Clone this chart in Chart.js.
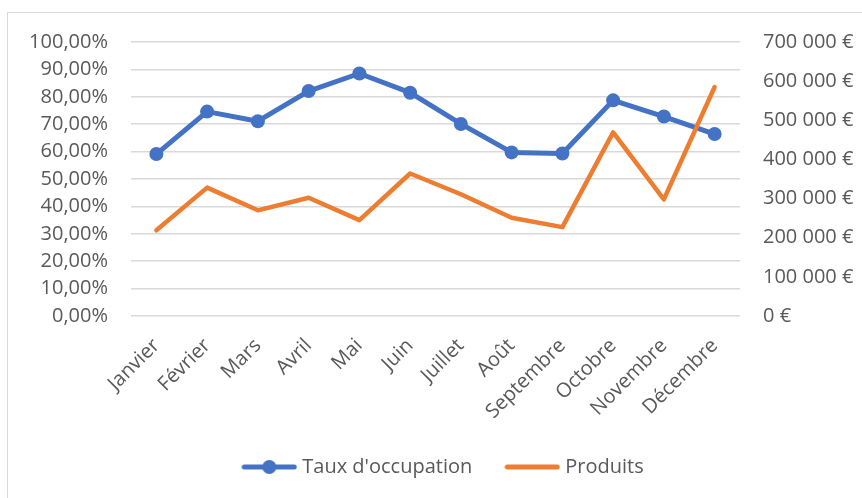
<!DOCTYPE html>
<html lang="fr">
<head>
<meta charset="utf-8">
<title>Taux d'occupation et produits</title>
<script src="https://cdn.jsdelivr.net/npm/chart.js@4.4.1/dist/chart.umd.min.js"></script>
<style>
  html, body { margin: 0; padding: 0; background: #ffffff; }
  #wrap { position: relative; width: 862px; height: 498px; overflow: hidden; }
  #frame {
    position: absolute; left: 7px; top: 12px; width: 900px; height: 520px;
    border: 1px solid #d9d9d9; box-sizing: border-box;
  }
  #myChart { position: absolute; left: 0; top: 0; }
</style>
</head>
<body>
<div id="wrap">
  <div id="frame"></div>
  <canvas id="myChart" width="862" height="498"></canvas>
</div>
<script>
// data
const mois = ['Janvier', 'Février', 'Mars', 'Avril', 'Mai', 'Juin', 'Juillet', 'Août', 'Septembre', 'Octobre', 'Novembre', 'Décembre'];
const tauxOccupation = [0.591, 0.746, 0.711, 0.821, 0.885, 0.815, 0.701, 0.597, 0.593, 0.787, 0.728, 0.664];
const produits = [219000, 328000, 270000, 302000, 245000, 364000, 311000, 251000, 227000, 469000, 298000, 585000];
const ticksTaux = [0, 0.1, 0.2, 0.3, 0.4, 0.5, 0.6, 0.7, 0.8, 0.9, 1];
const ticksProduits = [0, 100000, 200000, 300000, 400000, 500000, 600000, 700000];

const bleu = '#4472C4';
const orange = '#ED7D31';
const gris = '#595959';
const police = { family: "'Open Sans', sans-serif", size: 20 };

function formatPct(v) {
  return (v * 100).toFixed(2).replace('.', ',') + '%';
}
function formatEuro(v) {
  return String(Math.round(v)).replace(/\B(?=(\d{3})+(?!\d))/g, ' ') + ' €';
}

// legend swatches: line with / without marker
function swatch(color, withMarker) {
  const c = document.createElement('canvas');
  c.width = 56; c.height = 16;
  const g = c.getContext('2d');
  g.strokeStyle = color;
  g.lineWidth = 5;
  g.lineCap = 'round';
  g.beginPath();
  g.moveTo(3, 8);
  g.lineTo(53, 8);
  g.stroke();
  if (withMarker) {
    g.fillStyle = color;
    g.beginPath();
    g.arc(28, 8, 7, 0, Math.PI * 2);
    g.fill();
  }
  return c;
}
const swatchTaux = swatch(bleu, true);
const swatchProduits = swatch(orange, false);

const ctx = document.getElementById('myChart').getContext('2d');

new Chart(ctx, {
  type: 'line',
  data: {
    labels: mois,
    datasets: [{
      label: "Taux d'occupation",
      data: tauxOccupation,
      yAxisID: 'y',
      borderColor: bleu,
      backgroundColor: bleu,
      borderWidth: 5,
      borderCapStyle: 'round',
      borderJoinStyle: 'round',
      pointRadius: 7,
      pointBorderWidth: 0,
      pointBackgroundColor: bleu,
      tension: 0,
      order: 1
    },
    {
      label: 'Produits',
      data: produits,
      yAxisID: 'y1',
      borderColor: orange,
      backgroundColor: orange,
      borderWidth: 4.5,
      borderCapStyle: 'round',
      borderJoinStyle: 'round',
      pointRadius: 0,
      tension: 0,
      order: 0
    }]
  },
  options: {
    responsive: false,
    animation: false,
    layout: {
      padding: { left: 28, right: 0, top: 42, bottom: 11 }
    },
    scales: {
      x: {
        offset: true,
        grid: { display: false },
        border: { display: false },
        ticks: {
          color: gris,
          font: police,
          maxRotation: 45,
          minRotation: 45,
          autoSkip: false,
          padding: 10
        },
        afterFit: function (scale) { scale.height = 104; }
      },
      y: {
        position: 'left',
        min: 0,
        max: 1,
        afterBuildTicks: function (scale) { scale.ticks = ticksTaux.map(v => ({ value: v })); },
        grid: { color: '#d9d9d9', lineWidth: 1.5, drawTicks: false },
        border: { display: false },
        ticks: {
          color: gris,
          font: police,
          padding: 23,
          callback: v => formatPct(v)
        },
        afterFit: function (scale) { scale.width = 103; }
      },
      y1: {
        position: 'right',
        min: 0,
        max: 700000,
        afterBuildTicks: function (scale) { scale.ticks = ticksProduits.map(v => ({ value: v })); },
        grid: { display: false, drawTicks: false },
        border: { display: false },
        ticks: {
          color: gris,
          font: police,
          padding: 23,
          callback: v => formatEuro(v)
        },
        afterFit: function (scale) { scale.width = 122; }
      }
    },
    plugins: {
      tooltip: { enabled: false },
      legend: {
        position: 'bottom',
        labels: {
          color: gris,
          font: police,
          usePointStyle: true,
          pointStyleWidth: 46,
          padding: 37,
          generateLabels: function () {
            return [
              { text: "Taux d'occupation", pointStyle: swatchTaux, fillStyle: bleu, strokeStyle: bleu, lineWidth: 0, datasetIndex: 0, hidden: false, fontColor: gris },
              { text: 'Produits', pointStyle: swatchProduits, fillStyle: orange, strokeStyle: orange, lineWidth: 0, datasetIndex: 1, hidden: false, fontColor: gris }
            ];
          }
        }
      }
    }
  }
});
</script>
</body>
</html>
